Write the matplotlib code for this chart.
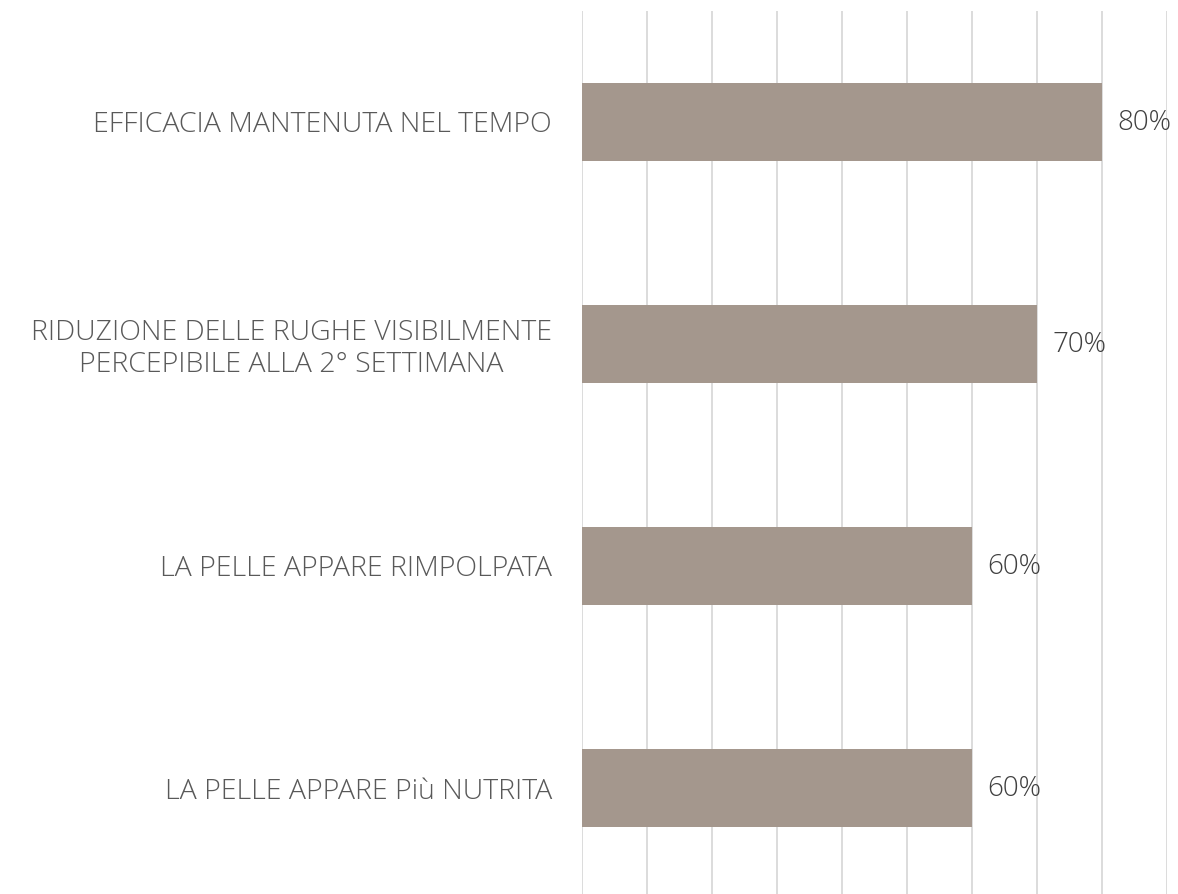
import matplotlib
matplotlib.use("Agg")
import matplotlib.pyplot as plt

categories = [
    "EFFICACIA MANTENUTA NEL TEMPO",
    "RIDUZIONE DELLE RUGHE VISIBILMENTE\nPERCEPIBILE ALLA 2° SETTIMANA",
    "LA PELLE APPARE RIMPOLPATA",
    "LA PELLE APPARE Più NUTRITA",
]
values = [80, 70, 60, 60]
value_labels = ["80%", "70%", "60%", "60%"]
xticks = [0, 10, 20, 30, 40, 50, 60, 70, 80, 90]

plt.rcParams['font.family'] = ['Open Sans', 'DejaVu Sans']

W, H = 1178, 894
fig = plt.figure(figsize=(W / 100, H / 100), dpi=100)
left = 582 / W
right = 1167 / W
top = 1 - 11 / H
bottom = 1 - 899 / H
ax = fig.add_axes([left, bottom, right - left, top - bottom])

n = len(categories)
ypos = list(range(n))
ax.barh(ypos, values, height=0.354, color="#A4978D", zorder=3)
ax.set_ylim(n - 0.5, -0.5)
ax.set_xlim(0, 90)
ax.set_xticks(xticks)
ax.set_xticklabels([])
ax.tick_params(axis='x', length=0)
ax.grid(axis='x', color="#D9D9D9", linewidth=1.3, zorder=0)
ax.set_axisbelow(True)
for s in ax.spines.values():
    s.set_visible(False)

ax.set_yticks(ypos)
ax.set_yticklabels(categories, fontsize=20.5, color="#595959", fontweight='light',
                   multialignment='center', linespacing=1.15)
ax.tick_params(axis='y', length=0, pad=21.6)

for y, v, lab in zip(ypos, values, value_labels):
    ax.annotate(lab, xy=(v, y), xytext=(10.8, -1), textcoords='offset points',
                va='center', ha='left', fontsize=20, color="#404040",
                fontweight='light', zorder=4)

fig.savefig("out.png", dpi=100)
